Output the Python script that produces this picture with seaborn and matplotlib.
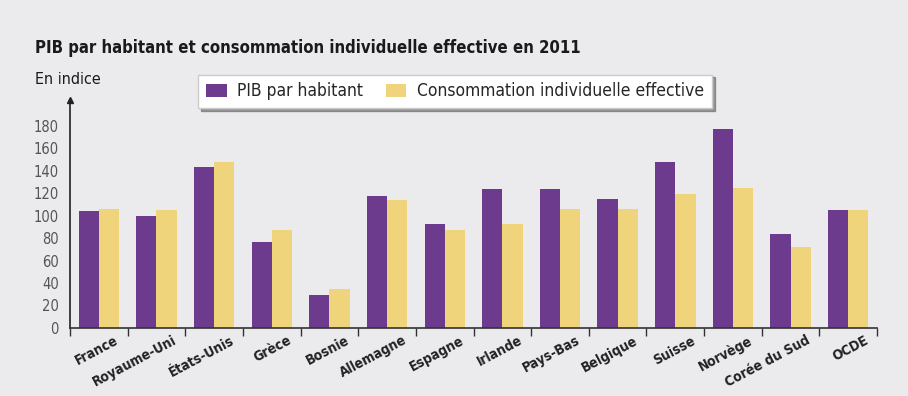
import matplotlib
matplotlib.use("Agg")
import matplotlib.pyplot as plt
import seaborn as sns
import pandas as pd
from matplotlib.patches import Patch

countries = ["France", "Royaume-Uni", "États-Unis", "Grèce", "Bosnie", "Allemagne",
             "Espagne", "Irlande", "Pays-Bas", "Belgique", "Suisse", "Norvège",
             "Corée du Sud", "OCDE"]
pib = [104, 100, 143, 77, 29, 118, 93, 124, 124, 115, 148, 177, 84, 105]
conso = [106, 105, 148, 87, 35, 114, 87, 93, 106, 106, 119, 125, 72, 105]
series = ["PIB par habitant", "Consommation individuelle effective"]
yticks = list(range(0, 181, 20))

df = pd.DataFrame({
    "pays": countries * 2,
    "valeur": pib + conso,
    "serie": [series[0]] * len(countries) + [series[1]] * len(countries),
})

sns.set_theme(style="white")
plt.rcParams["font.family"] = ["DejaVu Sans"]
plt.rcParams["font.stretch"] = "condensed"

bg = "#ebebed"
fig = plt.figure(figsize=(9.08, 3.96), dpi=100, facecolor=bg)
ax = fig.add_axes([0.077, 0.172, 0.889, 0.575])
ax.set_facecolor(bg)

palette = {series[0]: "#6c3b8e", series[1]: "#f0d47c"}
sns.barplot(data=df, x="pays", y="valeur", hue="serie", order=countries,
            hue_order=series, palette=palette, width=0.7, saturation=1,
            edgecolor="none", ax=ax, legend=False)

ax.set_ylim(0, 203)
ax.set_xlim(-0.5, len(countries) - 0.5)
ax.set_yticks(yticks)
ax.set_yticklabels([str(v) for v in yticks], fontsize=10.5, color="#555555")
ax.set_xlabel("")
ax.set_ylabel("")
for s in ["top", "right"]:
    ax.spines[s].set_visible(False)
ax.spines["left"].set_color("#222222")
ax.spines["left"].set_linewidth(1.2)
ax.spines["bottom"].set_color("#333333")
ax.spines["bottom"].set_linewidth(1.2)
ax.plot([0], [1], marker="^", color="#222222", markersize=5,
        transform=ax.transAxes, clip_on=False)

ax.set_xticks([i + 0.5 for i in range(-1, len(countries))], minor=False)
ax.set_xticklabels([""] * (len(countries) + 1))
ax.tick_params(axis="x", which="major", direction="out", length=6, width=1,
               color="#333333", bottom=True)
ax.set_xticks([i + 0.27 for i in range(len(countries))], minor=True)
ax.set_xticklabels(countries, minor=True, rotation=28, ha="right",
                   rotation_mode="anchor", fontsize=10, fontweight="bold",
                   color="#222222")
ax.tick_params(axis="x", which="minor", length=0, pad=4)
ax.tick_params(axis="y", length=0, pad=8)

fig.text(0.038, 0.878, "PIB par habitant et consommation individuelle effective en 2011",
         fontsize=12, fontweight="bold", color="#1a1a1a", va="center", ha="left")
fig.text(0.038, 0.798, "En indice", fontsize=11.5, color="#1a1a1a",
         va="center", ha="left")

handles = [Patch(facecolor=palette[s], edgecolor="none") for s in series]
leg = fig.legend(handles, series, loc="center", bbox_to_anchor=(0.501, 0.769),
                 ncol=2, frameon=True, fontsize=12.5, handlelength=1.2,
                 handleheight=0.8, columnspacing=1.3, handletextpad=0.6,
                 borderpad=0.45, shadow=True, fancybox=False)
leg.get_frame().set_facecolor("white")
leg.get_frame().set_edgecolor("#cccccc")

fig.savefig("out.png", dpi=100, facecolor=bg)
